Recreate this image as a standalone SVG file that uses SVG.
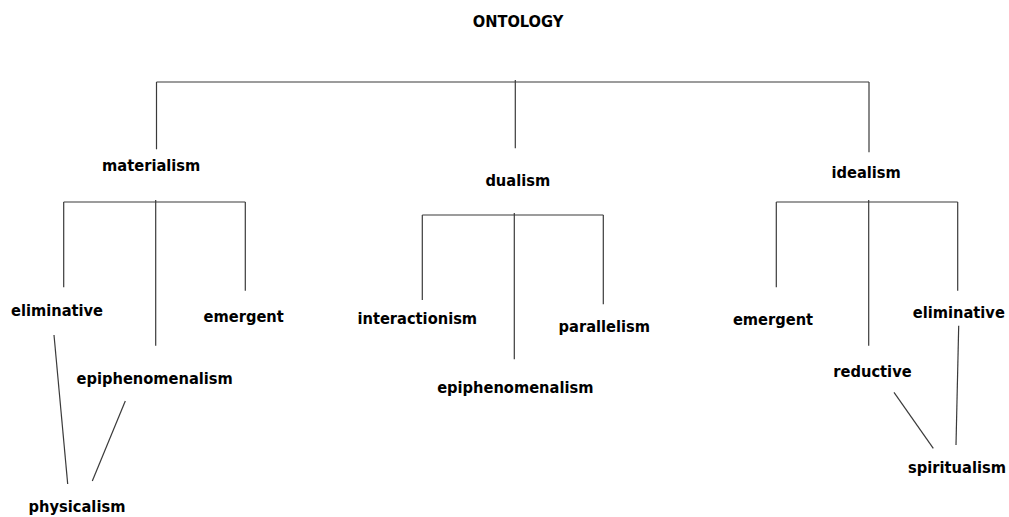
<svg xmlns="http://www.w3.org/2000/svg" width="1009" height="517" viewBox="0 0 1009 517">
<style>
.lbl{font-family:"DejaVu Sans Condensed","DejaVu Sans",sans-serif;font-stretch:condensed;font-weight:bold;font-size:16.3px;fill:#000;text-anchor:middle}
.c line{stroke:#3a3a3a;stroke-width:1.2;fill:none}
</style>
<rect width="1009" height="517" fill="#fff"/>
<g id="connectors" class="c">
<line x1="156.5" y1="82" x2="869" y2="82"/>
<line x1="156.5" y1="82" x2="156.5" y2="149.3"/>
<line x1="515.3" y1="80" x2="515.3" y2="148.3"/>
<line x1="869" y1="82" x2="869" y2="152.3"/>
<line x1="63.7" y1="202" x2="245.3" y2="202"/>
<line x1="63.7" y1="202" x2="63.7" y2="287.3"/>
<line x1="155.7" y1="200" x2="155.7" y2="345.7"/>
<line x1="245.3" y1="202" x2="245.3" y2="290.7"/>
<line x1="422.3" y1="215" x2="603.3" y2="215"/>
<line x1="422.3" y1="215" x2="422.3" y2="300"/>
<line x1="514.3" y1="213" x2="514.3" y2="359.3"/>
<line x1="603.3" y1="215" x2="603.3" y2="304.3"/>
<line x1="776.3" y1="202" x2="957.7" y2="202"/>
<line x1="776.3" y1="202" x2="776.3" y2="287.3"/>
<line x1="868.7" y1="200" x2="868.7" y2="345.7"/>
<line x1="957.7" y1="202" x2="957.7" y2="290.7"/>
<line x1="54" y1="335" x2="67.7" y2="484"/>
<line x1="125.3" y1="401" x2="92.3" y2="481"/>
<line x1="894" y1="392.3" x2="933.3" y2="448.3"/>
<line x1="958.7" y1="325.7" x2="956" y2="445"/>
</g>
<g id="ontology"><text class="lbl" x="518" y="26.7">ONTOLOGY</text></g>
<g id="materialism"><text class="lbl" x="151.2" y="170.7">materialism</text></g>
<g id="dualism"><text class="lbl" x="517.8" y="186">dualism</text></g>
<g id="idealism"><text class="lbl" x="866.2" y="178.3">idealism</text></g>
<g id="mat-eliminative"><text class="lbl" x="57" y="316">eliminative</text></g>
<g id="mat-emergent"><text class="lbl" x="243.7" y="322">emergent</text></g>
<g id="mat-epiphenomenalism"><text class="lbl" x="154.7" y="384">epiphenomenalism</text></g>
<g id="physicalism"><text class="lbl" x="77" y="512">physicalism</text></g>
<g id="interactionism"><text class="lbl" x="417.3" y="324.3">interactionism</text></g>
<g id="parallelism"><text class="lbl" x="604.3" y="331.7">parallelism</text></g>
<g id="dua-epiphenomenalism"><text class="lbl" x="515.3" y="393.3">epiphenomenalism</text></g>
<g id="ide-emergent"><text class="lbl" x="773" y="325">emergent</text></g>
<g id="ide-eliminative"><text class="lbl" x="958.8" y="318.3">eliminative</text></g>
<g id="reductive"><text class="lbl" x="872.5" y="377.3">reductive</text></g>
<g id="spiritualism"><text class="lbl" x="957" y="472.7">spiritualism</text></g>
</svg>
